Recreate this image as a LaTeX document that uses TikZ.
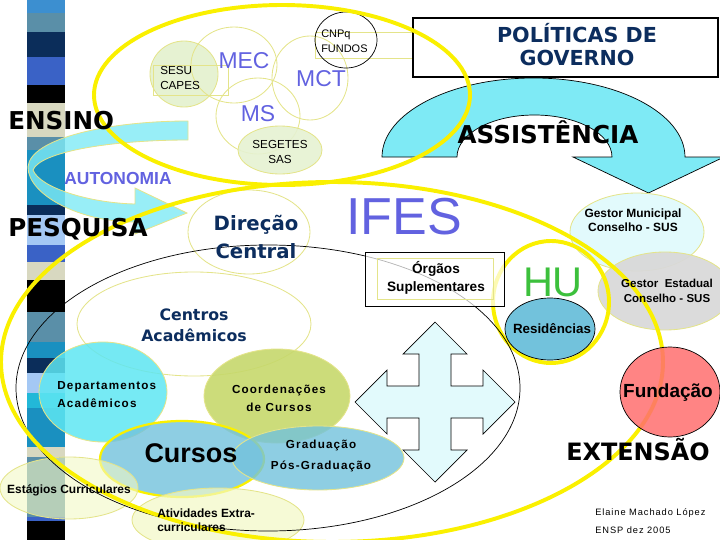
\documentclass[tikz,border=0pt]{standalone}
\usepackage{fontspec}
\setmainfont{Liberation Sans}
\newfontfamily\verd{DejaVu Sans}
\newfontfamily\spaced{Liberation Sans}[LetterSpace=10]

\definecolor{ringyellow}{HTML}{FAF000}
\definecolor{paleyellow}{HTML}{E4E48A}
\definecolor{navy}{HTML}{0C2D5E}
\definecolor{slate}{HTML}{6262E0}
\definecolor{hugreen}{HTML}{3CC03C}
\definecolor{aqua}{HTML}{7EEAF5}
\definecolor{deptaqua}{HTML}{5EE6F2}
\definecolor{olive}{HTML}{C6D86C}
\definecolor{sky}{HTML}{72C2DC}
\definecolor{mint}{HTML}{E6F2D2}
\definecolor{lemon}{HTML}{F2F8C4}
\definecolor{icecyan}{HTML}{E2FAFC}
\definecolor{cloud}{HTML}{D9D9D9}
\definecolor{salmon}{HTML}{FF6E6E}
\definecolor{barA}{HTML}{3C8FD0}
\definecolor{barB}{HTML}{5A8FA8}
\definecolor{barC}{HTML}{0B2D5A}
\definecolor{barD}{HTML}{3A62C6}
\definecolor{barE}{HTML}{D8D8C0}
\definecolor{barF}{HTML}{1A90C0}
\definecolor{barG}{HTML}{A4C8F4}
\definecolor{barH}{HTML}{22B8D8}

\tikzset{
       ring/.style = { draw=ringyellow, line width=2.8pt },
   paleline/.style = { draw=paleyellow, line width=0.6pt },
   inkline/.style = { draw=black, line width=0.5pt },
    bigword/.style = { font=\verd\bfseries\fontsize{17.5}{21}\selectfont },
     agency/.style = { text=slate, font=\fontsize{16.3}{18}\selectfont },
   tinytext/.style = { font=\fontsize{8.3}{10.7}\selectfont },
   navytext/.style = { text=navy, font=\verd\bfseries\fontsize{14}{20}\selectfont },
  spacedtxt/.style = { font=\spaced\bfseries\fontsize{8.3}{12.8}\selectfont },
   boldtext/.style = { font=\bfseries\fontsize{8.5}{10}\selectfont }
}

\begin{document}
\begin{tikzpicture}[x=0.25mm, y=-0.25mm, every node/.style={inner sep=0pt}]
  \useasboundingbox (0,0) rectangle (720,540);

  % striped bar
  \foreach \ya/\yb/\c in {0/13/barA, 13/32/barB, 32/57/barC, 57/85/barD,
      85/103/black, 103/137/barE, 137/150/barB, 150/205/barF, 205/215/barC,
      215/245/barG, 245/262/barD, 262/280/barE, 280/312/black, 312/342/barB,
      342/358/barF, 358/373/barC, 373/393/barG, 393/408/barH, 408/447/barF,
      447/457/barE, 457/517/barB, 517/521/barD, 521/540/black}
    \fill[\c] (27,\ya) rectangle (65,\yb);

  % ministries
  \draw[paleline, fill=mint] (184,74) ellipse [x radius=34, y radius=33];
  \draw[paleline] (234,65) ellipse [x radius=43, y radius=38];
  \draw[paleline] (310,78) ellipse [x radius=38, y radius=42];
  \draw[paleline] (258,116) ellipse [x radius=42, y radius=38];
  \draw[paleline, fill=mint, fill opacity=0.9] (280,150) ellipse [x radius=42, y radius=24];
  \draw[paleline] (153,65) rectangle (228,95);
  \draw[paleline] (315,32) rectangle (420,58);
  \draw[inkline] (346,40) ellipse [x radius=31, y radius=28];

  % assistencia arrow
  \filldraw[fill=aqua, inkline] (382,157)
    arc [start angle=180, end angle=360, x radius=151.5, y radius=79]
    -- (724,157) -- (648.5,193) -- (573,157) -- (612,157)
    arc [start angle=360, end angle=180, x radius=77.5, y radius=42] -- cycle;

  \draw[black, line width=2.1pt, fill=white] (413,18) rectangle (718,77);

  % autonomia arrow
  \filldraw[fill=aqua, fill opacity=0.8, paleline] (188,121) -- (188,140)
    .. controls (110,140) and (40,152) .. (33,170)
    .. controls (40,188) and (90,203) .. (135,204)
    -- (135,188) -- (187,213) -- (135,234) -- (135,222)
    .. controls (80,222) and (28,195) .. (28,167)
    .. controls (30,138) and (110,121) .. (188,121) -- cycle;

  % ifes parts
  \draw[paleline, fill=white] (249,232) ellipse [x radius=61, y radius=42];
  \draw[paleline, fill=white] (194,324) ellipse [x radius=117, y radius=52];
  \draw[paleline, fill=deptaqua, fill opacity=0.85] (103,392) ellipse [x radius=64, y radius=50];
  \draw[paleline, fill=olive, fill opacity=0.9] (277,396) ellipse [x radius=73, y radius=47];
  \draw[draw=ringyellow, line width=1.6pt, fill=sky, fill opacity=0.8] (182,459) ellipse [x radius=82, y radius=38];
  \draw[paleline, fill=sky, fill opacity=0.8] (318,458) ellipse [x radius=86, y radius=32];
  \draw[paleline, fill=lemon, fill opacity=0.6] (69,488) ellipse [x radius=69, y radius=31];
  \draw[paleline, fill=lemon, fill opacity=0.7] (218,520) ellipse [x radius=86, y radius=32];

  % saude
  \draw[paleline, fill=icecyan] (637,232) ellipse [x radius=67, y radius=39];
  \draw[paleline, fill=cloud, fill opacity=0.95] (665,291) ellipse [x radius=67, y radius=39];
  \draw[ring] (551,302) ellipse [x radius=58, y radius=61];
  \draw[inkline, fill=sky] (550,329) ellipse [x radius=45, y radius=31];

  % four way arrow
  \begin{scope}[shift={(435,402)}]
    \filldraw[fill=icecyan, inkline] (0,-80) -- (32,-48) -- (16,-48) -- (16,-16)
      -- (48,-16) -- (48,-32) -- (80,0) -- (48,32) -- (48,16) -- (16,16)
      -- (16,48) -- (32,48) -- (0,80) -- (-32,48) -- (-16,48) -- (-16,16)
      -- (-48,16) -- (-48,32) -- (-80,0) -- (-48,-32) -- (-48,-16)
      -- (-16,-16) -- (-16,-48) -- (-32,-48) -- cycle;
  \end{scope}

  \draw[inkline] (268,388) ellipse [x radius=252, y radius=143];

  \draw[inkline, fill=white, fill opacity=0.7] (365,252) rectangle (504,306);
  \draw[paleline] (377,258) rectangle (493,299);

  % big rings
  \draw[ring] (282,95) ellipse [x radius=188, y radius=90];
  \draw[ring] (332,362) ellipse [x radius=331, y radius=180];

  \draw[inkline, fill=salmon, fill opacity=0.85] (670,392) ellipse [x radius=50, y radius=45];

  % labels
  \node[bigword, anchor=west] (ensino) at (8,121) {ENSINO};
  \node[bigword, anchor=west] (pesquisa) at (8,229) {PESQUISA};
  \node[bigword] (assist) at (548,132) {ASSISTÊNCIA};
  \node[bigword, font=\verd\bfseries\fontsize{17}{20}\selectfont] (extensao) at (638,450) {EXTENSÃO};
  \node[text=slate, font=\bfseries\fontsize{12.4}{14}\selectfont] (autonomia) at (118,178) {AUTONOMIA};
  \node[text=navy, align=center, font=\verd\bfseries\fontsize{14.7}{16.4}\selectfont] (politicas) at (577,45) {POLÍTICAS DE\\GOVERNO};

  \node[agency] (mec) at (244,61) {MEC};
  \node[agency] (mct) at (321,79) {MCT};
  \node[agency] (ms) at (258,114) {MS};
  \node[tinytext, align=left, anchor=west] (sesu) at (160,78) {SESU\\CAPES};
  \node[tinytext, align=left, anchor=west, font=\fontsize{7.8}{10.7}\selectfont] (cnpq) at (321,41) {CNPq\\FUNDOS};
  \node[tinytext, align=center] (segetes) at (280,152) {SEGETES\\SAS};

  \node[text=slate, font=\fontsize{37}{40}\selectfont] (ifes) at (404,217) {IFES};
  \node[text=hugreen, font=\fontsize{29.5}{32}\selectfont] (hu) at (553,282) {HU};

  \node[navytext, align=center] (direcao) at (256,237) {Direção\\Central};
  \node[navytext, align=center, font=\verd\bfseries\fontsize{11.2}{15}\selectfont] (centros) at (194,325) {Centros\\Acadêmicos};
  \node[spacedtxt, align=left, anchor=west] (deptos) at (57,395) {Departamentos\\Acadêmicos};
  \node[spacedtxt, align=center] (coord) at (279,398) {Coordenações\\de Cursos};
  \node[font=\bfseries\fontsize{19.2}{22}\selectfont] (cursos) at (191,453) {Cursos};
  \node[spacedtxt, align=center, font=\spaced\bfseries\fontsize{8.3}{15}\selectfont] (grad) at (321,456) {Graduação\\Pós-Graduação};
  \node[boldtext] (estagios) at (69,490) {Estágios Curriculares};
  \node[boldtext, align=left, anchor=west] (ativ) at (157,520) {Atividades Extra-\\curriculares};
  \node[boldtext, align=center, font=\bfseries\fontsize{9.7}{12.8}\selectfont] (orgaos) at (436,278) {Órgãos\\Suplementares};

  \node[boldtext, align=center] (gmun) at (633,220) {Gestor Municipal\\Conselho - SUS};
  \node[boldtext, align=center, font=\bfseries\fontsize{8.2}{10.7}\selectfont] (gest) at (667,291) {Gestor~ Estadual\\Conselho - SUS};
  \node[boldtext, font=\bfseries\fontsize{9.5}{11}\selectfont] (resid) at (552,329) {Residências};
  \node[boldtext, font=\bfseries\fontsize{13.5}{15}\selectfont] (fund) at (668,393) {Fundação};

  \node[font=\spaced\fontsize{6.6}{8}\selectfont, anchor=west] (autora) at (595,513) {Elaine Machado López};
  \node[font=\spaced\fontsize{6.6}{8}\selectfont, anchor=west] (ensp) at (595,530) {ENSP dez 2005};
\end{tikzpicture}
\end{document}
